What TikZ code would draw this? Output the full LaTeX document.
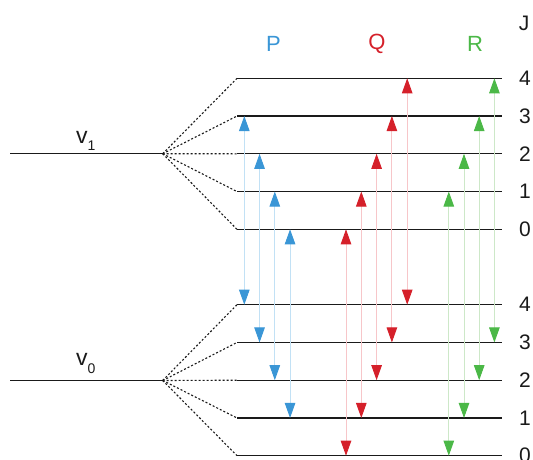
\documentclass[tikz,border=0pt]{standalone}
\usepackage{fontspec}
\setmainfont{Liberation Sans}
\usetikzlibrary{arrows.meta}
\definecolor{pblue}{HTML}{3A96D6}
\definecolor{qred}{HTML}{D5202A}
\definecolor{rgreen}{HTML}{4BB847}
\definecolor{pbluel}{HTML}{C2E1F5}
\definecolor{qredl}{HTML}{F7C6C9}
\definecolor{rgreenl}{HTML}{CDE8C8}
\definecolor{ink}{HTML}{1A1A1A}
\begin{document}
\begin{tikzpicture}[x=1pt,y=-1pt,
  lvl/.style={line width=1.3pt, ink},
  splitline/.style={line width=1.1pt, ink, dash pattern=on 2pt off 2pt},
  ptr/.style={line width=0.9pt, pbluel, {Triangle[width=10.5pt,length=15pt,color=pblue]}-{Triangle[width=10.5pt,length=15pt,color=pblue]}},
  qtr/.style={line width=0.9pt, qredl, {Triangle[width=10.5pt,length=15pt,color=qred]}-{Triangle[width=10.5pt,length=15pt,color=qred]}},
  rtr/.style={line width=0.9pt, rgreenl, {Triangle[width=10.5pt,length=15pt,color=rgreen]}-{Triangle[width=10.5pt,length=15pt,color=rgreen]}},
  jlab/.style={inner sep=0pt, font=\fontsize{21}{21}\selectfont, text=ink},
  blab/.style={inner sep=0pt, font=\fontsize{22}{22}\selectfont},
  vlab/.style={inner sep=0pt, anchor=base west, font=\fontsize{23}{23}\selectfont, text=ink}]
\useasboundingbox (0,0) rectangle (533,459);

% vibrational levels
\coordinate (v1a) at (10,153.7);
\coordinate (v1b) at (162.7,153.7);
\coordinate (v0a) at (10,380.5);
\coordinate (v0b) at (162.7,380.5);
\draw[lvl] (v1a) -- (v1b);
\draw[lvl] (v0a) -- (v0b);
\node[vlab] (v1lab) at (76,143) {v\raisebox{-7pt}{\fontsize{14}{14}\selectfont 1}};
\node[vlab] (v0lab) at (76,365.5) {v\raisebox{-7.5pt}{\fontsize{14}{14}\selectfont 0}};

% rotational levels
\foreach \j in {0,...,4} {
  \coordinate (u\j L) at (237,{229.3-37.75*\j});
  \coordinate (u\j R) at (502,{229.3-37.75*\j});
  \coordinate (l\j L) at (237,{455.7-37.75*\j});
  \coordinate (l\j R) at (502,{455.7-37.75*\j});
  \draw[splitline] (v1b) -- (u\j L);
  \draw[splitline] (v0b) -- (l\j L);
  \draw[lvl] (u\j L) -- (u\j R);
  \draw[lvl] (l\j L) -- (l\j R);
  \node[jlab] (ulab\j) at (525,{229.3-37.75*\j}) {\j};
  \node[jlab] (llab\j) at (525,{455.7-37.75*\j}) {\j};
}

% branch labels
\node[jlab] (Jlab) at (524,23) {J};
\node[blab, text=pblue] (Plab) at (273.5,44) {P};
\node[blab, text=qred] (Qlab) at (377,44) {Q};
\node[blab, text=rgreen] (Rlab) at (475,44) {R};

% P branch: J' = J'' - 1
\foreach \j in {1,...,4} {
  \coordinate (P\j) at ({244.3+15.25*(4-\j)},0);
  \pgfmathtruncatemacro{\k}{\j-1}
  \draw[ptr] (l\j L -| P\j) -- (u\k L -| P\j);
}
% Q branch: J' = J''
\foreach \j in {0,...,4} {
  \coordinate (Q\j) at ({346+15.3*\j},0);
  \draw[qtr] (l\j L -| Q\j) -- (u\j L -| Q\j);
}
% R branch: J' = J'' + 1
\foreach \j in {0,...,3} {
  \coordinate (R\j) at ({448.8+15.2*\j},0);
  \pgfmathtruncatemacro{\k}{\j+1}
  \draw[rtr] (l\j L -| R\j) -- (u\k L -| R\j);
}
\end{tikzpicture}
\end{document}
